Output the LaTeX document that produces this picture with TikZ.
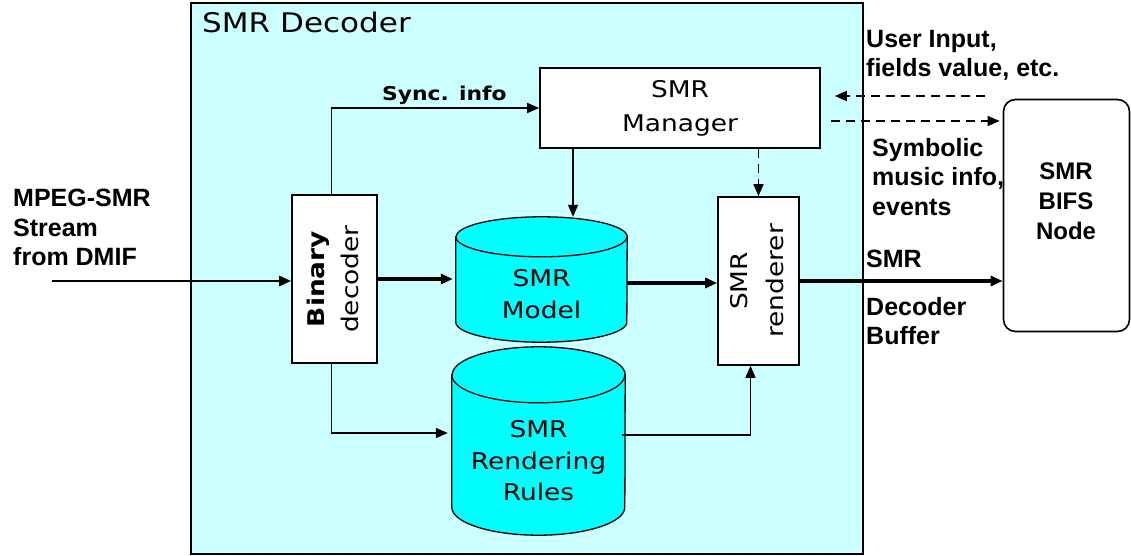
\documentclass[tikz,border=0pt]{standalone}
\usepackage{fontspec}
\usetikzlibrary{arrows.meta}

\setmainfont{Liberation Sans}
\newfontfamily\boxfont[FakeStretch=1.15]{DejaVu Sans}

\definecolor{decbg}{HTML}{CCFFFF}
\definecolor{storefill}{HTML}{00FFFF}

% drum outline around an existing node: #1 node, #2 x radius, #3 y radius
\newcommand{\drum}[3]{%
    \draw[line width=1.3pt,fill=storefill] ([yshift=-#3]#1.north west) -- ([yshift=#3]#1.south west)
        arc[start angle=180,end angle=360,x radius=#2,y radius=#3]
        -- ([yshift=-#3]#1.north east)
        arc[start angle=0,end angle=180,x radius=#2,y radius=#3] -- cycle;
    \draw[line width=1.3pt] ([yshift=-#3]#1.north west)
        arc[start angle=180,end angle=360,x radius=#2,y radius=#3];
}

\tikzset{
    box/.style={draw,fill=white,line width=1.6pt,inner sep=0pt},
    store/.style={inner sep=0pt},
    boxtxt/.style={font=\boxfont\fontsize{23}{34}\selectfont,align=center},
    storetxt/.style={font=\boxfont\fontsize{23}{32}\selectfont,align=center,inner sep=0pt},
    lbl/.style={font=\bfseries\fontsize{25}{29.5}\selectfont,align=left,inner sep=0pt},
    flow/.style={-{Triangle[length=12pt,width=10pt]},line width=1.4pt},
    bigflow/.style={flow,line width=3.6pt},
    msg/.style={flow,dash pattern=on 9pt off 6pt}
}

\begin{document}
\begin{tikzpicture}[x=1pt,y=-1pt]
    \useasboundingbox (0,0) rectangle (1131,556);

    % decoder frame
    \draw[line width=1.8pt,fill=decbg] (191,3) rectangle (863,554);
    \node[anchor=base west,inner sep=0pt,font=\boxfont\fontsize{27}{30}\selectfont]
        (title) at (202,33) {SMR Decoder};

    % blocks
    \node[box,boxtxt,minimum width=280pt,minimum height=80pt] (manager) at (680,108) {SMR\\Manager};
    \node[box,minimum width=85pt,minimum height=168pt] (binary) at (334.5,279)
        {\rotatebox{90}{\boxfont\fontsize{23}{34}\selectfont
            \begin{tabular}{@{}c@{}}\textbf{Binary}\\decoder\end{tabular}}};
    \node[box,minimum width=81pt,minimum height=168pt] (renderer) at (758.5,281)
        {\rotatebox{90}{\boxfont\fontsize{23}{36}\selectfont
            \begin{tabular}{@{}c@{}}SMR\\renderer\end{tabular}}};

    \node[store,minimum width=171pt,minimum height=125pt] (model) at (541.5,279.5) {};
    \drum{model}{85.5pt}{20pt}
    \node[storetxt] (modeltxt) at (541.5,294) {SMR\\Model};

    \node[store,minimum width=173pt,minimum height=188pt] (rules) at (538.5,441) {};
    \drum{rules}{86.5pt}{28pt}
    \node[storetxt,font=\boxfont\fontsize{23}{31.5}\selectfont] (rulestxt) at (538.5,461) {SMR\\Rendering\\Rules};

    \node[draw,fill=white,line width=1.6pt,rounded corners=12pt,minimum width=126pt,minimum height=232pt]
        (bifs) at (1066.5,215.5) {};
    \node[align=center,font=\bfseries\fontsize{24}{30}\selectfont] (bifstxt) at (1066,201) {SMR\\BIFS\\Node};

    % outside labels
    \node[lbl,anchor=north west] (instream) at (13,189) {MPEG-SMR\\Stream\\from DMIF};
    \node[lbl,anchor=north west] (userin) at (866,30) {User Input,\\fields value, etc.};
    \node[lbl,anchor=north west] (symb) at (872,138) {Symbolic\\music info,\\events};
    \node[lbl,anchor=north west] (bufa) at (866,250) {SMR};
    \node[lbl,anchor=north west] (bufb) at (866,297) {Decoder\\Buffer};

    % data paths
    \coordinate (src) at (52,281);
    \draw[flow,line width=2.4pt] (src) -- (src -| binary.west);
    \draw[bigflow,shorten >=3pt] (binary.east) -- (binary.east -| model.west);
    \draw[bigflow] ([yshift=-2pt]renderer.west -| model.east) -- ([yshift=-2pt]renderer.west);
    \draw[bigflow] (renderer.east) -- (renderer.east -| bifs.west);

    \draw[flow] ([xshift=-3pt]binary.north) |- (manager.west)
        node[pos=0.75,above=3pt,xshift=9pt,inner sep=0pt,
             font=\boxfont\bfseries\fontsize{19}{22}\selectfont] (sync) {Sync. info};
    \draw[flow] ([xshift=-107pt]manager.south) -- ([xshift=-107pt]manager.south |- model.north);
    \draw[msg] (renderer.north |- manager.south) -- (renderer.north);

    \draw[flow,shorten >=4pt] ([xshift=-3pt]binary.south) |- ([yshift=8pt]rules.west);
    \draw[flow] ([yshift=6pt,xshift=-3pt]rules.east) -| ([xshift=-8pt]renderer.south);

    % events to and from the scene
    \coordinate (uisrc) at (985,96);
    \draw[msg,shorten >=14pt] (uisrc) -- (uisrc -| manager.east);
    \draw[msg,shorten <=10pt,shorten >=3pt] ([yshift=-13pt]manager.east) -- ([yshift=-13pt]manager.east -| bifs.west);
\end{tikzpicture}
\end{document}
